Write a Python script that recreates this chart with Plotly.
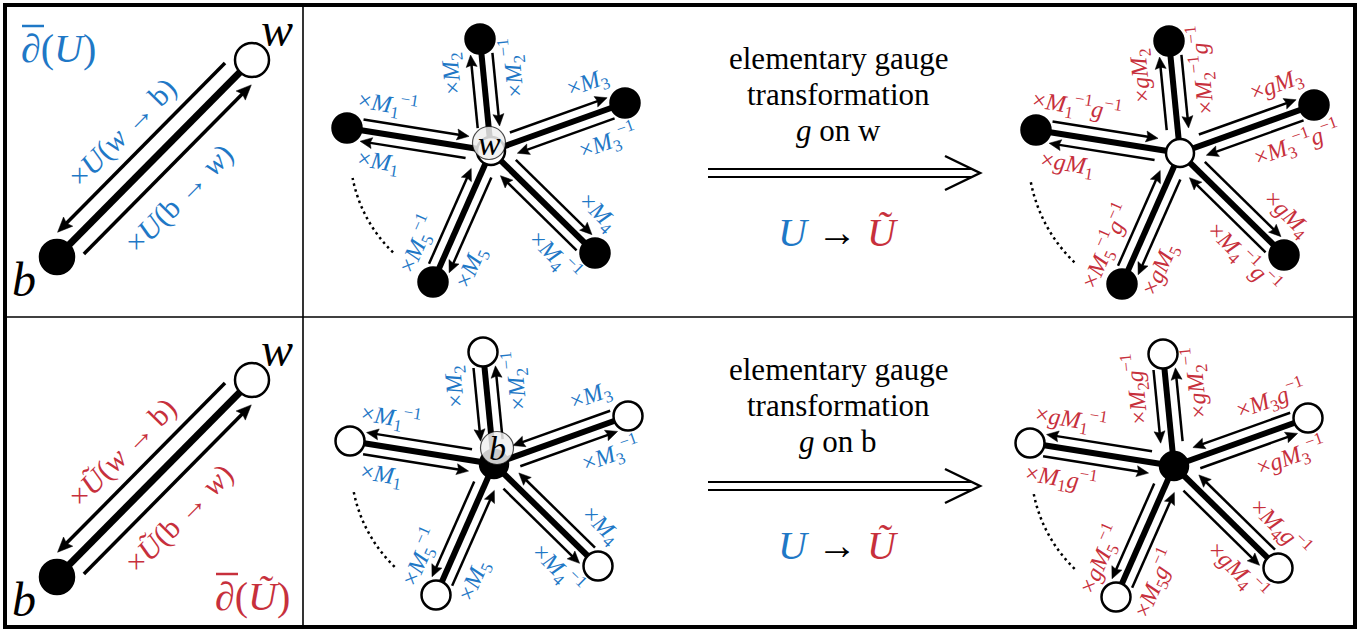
import math
import plotly.graph_objects as go

W, H = 1367, 631
BLUE = "#1f78c6"
RED = "#c7303c"
FONT = "'Liberation Serif', 'DejaVu Serif', serif"

# ---------------- data ----------------
# star graphs: offsets of the five outer nodes from the central node
spoke_dx = [-144, -11, 134, 104, -58]
spoke_dy = [-23, -112, -48, 102, 131]

star_cx = [491, 1180, 494, 1174]
star_cy = [151, 153, 464, 466]
star_center_black = [False, False, True, True]
star_outer_black = [True, True, False, False]
star_left_outward = [True, True, False, False]
star_label_color = [BLUE, RED, BLUE, RED]
star_arc_r = [141, 152, 143, 143]
star_center_text = ["w", "", "b", ""]

labels_left = [
    ["×<i>M</i><sub>1</sub>", "×<i>M</i><sub>2</sub>", "×<i>M</i><sub>3</sub>",
     "×<i>M</i><sub>4</sub>", "×<i>M</i><sub>5</sub>"],
    ["×<i>gM</i><sub>1</sub>", "×<i>gM</i><sub>2</sub>", "×<i>gM</i><sub>3</sub>",
     "×<i>gM</i><sub>4</sub>", "×<i>gM</i><sub>5</sub>"],
    ["×<i>M</i><sub>1</sub>", "×<i>M</i><sub>2</sub>", "×<i>M</i><sub>3</sub>",
     "×<i>M</i><sub>4</sub>", "×<i>M</i><sub>5</sub>"],
    ["×<i>M</i><sub>1</sub><i>g</i><sup>−1</sup>", "×<i>M</i><sub>2</sub><i>g</i><sup>−1</sup>",
     "×<i>M</i><sub>3</sub><i>g</i><sup>−1</sup>", "×<i>M</i><sub>4</sub><i>g</i><sup>−1</sup>",
     "×<i>M</i><sub>5</sub><i>g</i><sup>−1</sup>"],
]
labels_right = [
    ["×<i>M</i><sub>1</sub><sup>−1</sup>", "×<i>M</i><sub>2</sub><sup>−1</sup>",
     "×<i>M</i><sub>3</sub><sup>−1</sup>", "×<i>M</i><sub>4</sub><sup>−1</sup>",
     "×<i>M</i><sub>5</sub><sup>−1</sup>"],
    ["×<i>M</i><sub>1</sub><sup>−1</sup><i>g</i><sup>−1</sup>",
     "×<i>M</i><sub>2</sub><sup>−1</sup><i>g</i><sup>−1</sup>",
     "×<i>M</i><sub>3</sub><sup>−1</sup><i>g</i><sup>−1</sup>",
     "×<i>M</i><sub>4</sub><sup>−1</sup><i>g</i><sup>−1</sup>",
     "×<i>M</i><sub>5</sub><sup>−1</sup><i>g</i><sup>−1</sup>"],
    ["×<i>M</i><sub>1</sub><sup>−1</sup>", "×<i>M</i><sub>2</sub><sup>−1</sup>",
     "×<i>M</i><sub>3</sub><sup>−1</sup>", "×<i>M</i><sub>4</sub><sup>−1</sup>",
     "×<i>M</i><sub>5</sub><sup>−1</sup>"],
    ["×<i>gM</i><sub>1</sub><sup>−1</sup>", "×<i>gM</i><sub>2</sub><sup>−1</sup>",
     "×<i>gM</i><sub>3</sub><sup>−1</sup>", "×<i>gM</i><sub>4</sub><sup>−1</sup>",
     "×<i>gM</i><sub>5</sub><sup>−1</sup>"],
]

# single-edge panels (left column)
edge_bx = [57, 57]
edge_by = [257, 577]
edge_wx = [252, 252]
edge_wy = [60, 380]
edge_color = [BLUE, RED]
edge_label_wb = ["×<i>U</i>(<i>w</i> → b)", "×<i>Ũ</i>(<i>w</i> → b)"]
edge_label_bw = ["×<i>U</i>(b → <i>w</i>)", "×<i>Ũ</i>(b → <i>w</i>)"]
edge_boundary = ["∂(<i>U</i>)", "∂(<i>Ũ</i>)"]
edge_boundary_x = [58, 252]
edge_boundary_y = [48, 596]

# middle column (transformation arrows)
mid_x = 838
mid_arrow_y = [173, 486]
mid_text_y0 = [58, 369]
mid_lines = [["elementary gauge", "transformation", "<i>g</i> on w"],
             ["elementary gauge", "transformation", "<i>g</i> on b"]]

# label placement along each spoke (fraction of spoke length)
LABEL_FRAC = [0.75, 0.72, 0.8, 0.82, 0.8]

shapes = []
annotations = []


def add_line(x0, y0, x1, y1, w, color="black", layer="below", dash=None):
    ln = dict(color=color, width=w)
    if dash:
        ln["dash"] = dash
    shapes.append(dict(type="line", xref="x", yref="y", x0=x0, y0=y0, x1=x1, y1=y1,
                       line=ln, layer=layer))


def add_arrow(x0, y0, x1, y1, w, hl, hw, layer="below"):
    dx, dy = x1 - x0, y1 - y0
    L = math.hypot(dx, dy)
    ux, uy = dx / L, dy / L
    nx, ny = -uy, ux
    add_line(x0, y0, x1 - ux * hl * 0.6, y1 - uy * hl * 0.6, w, layer=layer)
    bx, by = x1 - ux * hl, y1 - uy * hl
    mx, my = x1 - ux * hl * 0.85, y1 - uy * hl * 0.85
    path = (f"M {x1:.2f},{y1:.2f} L {bx + nx * hw:.2f},{by + ny * hw:.2f} "
            f"L {mx:.2f},{my:.2f} L {bx - nx * hw:.2f},{by - ny * hw:.2f} Z")
    shapes.append(dict(type="path", xref="x", yref="y", path=path, fillcolor="black",
                       line=dict(color="black", width=0.5), layer=layer))


def add_text(x, y, text, size, color="black", angle=0):
    annotations.append(dict(x=x, y=y, xref="x", yref="y", text=text, showarrow=False,
                            xanchor="center", yanchor="middle", textangle=angle,
                            font=dict(family=FONT, size=size, color=color)))


def text_angle(dx, dy):
    a = math.degrees(math.atan2(dy, dx))
    if a > 90:
        a -= 180
    if a < -100:
        a += 180
    return a


# ---------------- frame ----------------
shapes.append(dict(type="rect", xref="x", yref="y", x0=5, y0=5, x1=1355, y1=627,
                   line=dict(color="black", width=4), layer="above"))
add_line(303, 5, 303, 627, 1.6)
add_line(5, 317, 1355, 317, 1.6)

node_x, node_y, node_fill, node_size = [], [], [], []

# ---------------- left edge panels ----------------
for p in range(2):
    bx, by, wx, wy = edge_bx[p], edge_by[p], edge_wx[p], edge_wy[p]
    dx, dy = wx - bx, wy - by
    L = math.hypot(dx, dy)
    ux, uy = dx / L, dy / L
    lx, ly = uy, -ux  # left-hand normal when going b -> w
    add_line(bx, by, wx, wy, 7)
    off = 17
    # left side: arrow towards b
    add_arrow(bx + ux * 256 + lx * off, by + uy * 256 + ly * off,
              bx + ux * 18 + lx * off, by + uy * 18 + ly * off, 3.5, 15, 6.5)
    # right side: arrow towards w
    add_arrow(bx + ux * 21 - lx * off, by + uy * 21 - ly * off,
              bx + ux * 259 - lx * off, by + uy * 259 - ly * off, 3.5, 15, 6.5)
    ang = math.degrees(math.atan2(dy, dx))
    add_text(bx + ux * 135 + lx * 41, by + uy * 135 + ly * 41, edge_label_wb[p], 30,
             edge_color[p], ang)
    add_text(bx + ux * 128 - lx * 46, by + uy * 128 - ly * 46, edge_label_bw[p], 30,
             edge_color[p], ang)
    node_x += [bx, wx]
    node_y += [by, wy]
    node_fill += ["black", "white"]
    node_size += [34, 34]
    add_text(wx + 25, wy - 31, "<i>w</i>", 48)
    add_text(bx - 33, by + 22, "<i>b</i>", 48)
    add_text(edge_boundary_x[p], edge_boundary_y[p], edge_boundary[p], 40, edge_color[p])
    add_line(edge_boundary_x[p] - 36, edge_boundary_y[p] - 22,
             edge_boundary_x[p] - 14, edge_boundary_y[p] - 22, 2.5, edge_color[p],
             layer="above")

# ---------------- star panels ----------------
bubble_x, bubble_y = [], []
for p in range(4):
    cx, cy = star_cx[p], star_cy[p]
    for k in range(5):
        dx, dy = spoke_dx[k], spoke_dy[k]
        L = math.hypot(dx, dy)
        ux, uy = dx / L, dy / L
        lx, ly = uy, -ux
        add_line(cx, cy, cx + dx, cy + dy, 6)
        off = 11
        a0, a1 = 24, L - 15
        for side in (1, -1):
            px, py = lx * off * side, ly * off * side
            sx, sy = cx + ux * a0 + px, cy + uy * a0 + py
            ex, ey = cx + ux * a1 + px, cy + uy * a1 + py
            outward = star_left_outward[p] if side == 1 else not star_left_outward[p]
            if outward:
                add_arrow(sx, sy, ex, ey, 2.5, 12, 5.5)
            else:
                add_arrow(ex, ey, sx, sy, 2.5, 12, 5.5)
        ang = text_angle(dx, dy)
        al = LABEL_FRAC[k] * L
        add_text(cx + ux * al + lx * 30, cy + uy * al + ly * 30, labels_left[p][k], 24,
                 star_label_color[p], ang)
        add_text(cx + ux * al - lx * 30, cy + uy * al - ly * 30, labels_right[p][k], 24,
                 star_label_color[p], ang)
        node_x.append(cx + dx)
        node_y.append(cy + dy)
        node_fill.append("black" if star_outer_black[p] else "white")
        node_size.append(29)
    node_x.append(cx)
    node_y.append(cy)
    node_fill.append("black" if star_center_black[p] else "white")
    node_size.append(28)
    # dotted arc
    r = star_arc_r[p]
    pts = []
    for i in range(41):
        a = math.radians(134 + (169 - 134) * i / 40)
        pts.append(f"{cx + r * math.cos(a):.2f},{cy + r * math.sin(a):.2f}")
    shapes.append(dict(type="path", xref="x", yref="y", path="M " + " L ".join(pts),
                       line=dict(color="black", width=2.5, dash="2.5px,3.5px"),
                       layer="below"))
    if star_center_text[p]:
        bubble_x.append(cx - 2 if p == 0 else cx + 3)
        bubble_y.append(cy - 8 if p == 0 else cy - 16)

# ---------------- middle transformation arrows ----------------
for r in range(2):
    ya = mid_arrow_y[r]
    add_line(708, ya - 4, 972, ya - 4, 2.2)
    add_line(708, ya + 4, 972, ya + 4, 2.2)
    shapes.append(dict(type="path", xref="x", yref="y",
                       path=f"M 945,{ya - 17} L 980,{ya} L 945,{ya + 17}",
                       line=dict(color="black", width=2.5), layer="below"))
    for i, t in enumerate(mid_lines[r]):
        add_text(mid_x, mid_text_y0[r] + 36 * i, t, 31)
    add_text(mid_x, ya + 59,
             f"<span style='color:{BLUE}'><i>U</i></span> → "
             f"<span style='color:{RED}'><i>Ũ</i></span>", 40)

fig = go.Figure()
fig.add_trace(go.Scatter(x=node_x, y=node_y, mode="markers", hoverinfo="skip",
                         marker=dict(size=node_size, color=node_fill, opacity=1,
                                     line=dict(color="black", width=2.5))))
fig.add_trace(go.Scatter(x=bubble_x, y=bubble_y, mode="markers", hoverinfo="skip",
                         marker=dict(size=33, color="rgba(240,240,240,0.85)", opacity=1,
                                     line=dict(color="rgba(0,0,0,0.7)", width=1.2))))
for i, t in enumerate(["w", "b"]):
    add_text(bubble_x[i], bubble_y[i], f"<i>{t}</i>", 34)

fig.update_layout(
    width=W, height=H, margin=dict(l=0, r=0, t=0, b=0),
    paper_bgcolor="white", plot_bgcolor="white", showlegend=False,
    xaxis=dict(range=[0, W], visible=False, fixedrange=True),
    yaxis=dict(range=[H, 0], visible=False, fixedrange=True),
    shapes=shapes, annotations=annotations,
)
fig.write_html("out.html", config={"displayModeBar": False},
               post_script="document.body.style.margin='0';document.body.style.overflow='hidden';")
